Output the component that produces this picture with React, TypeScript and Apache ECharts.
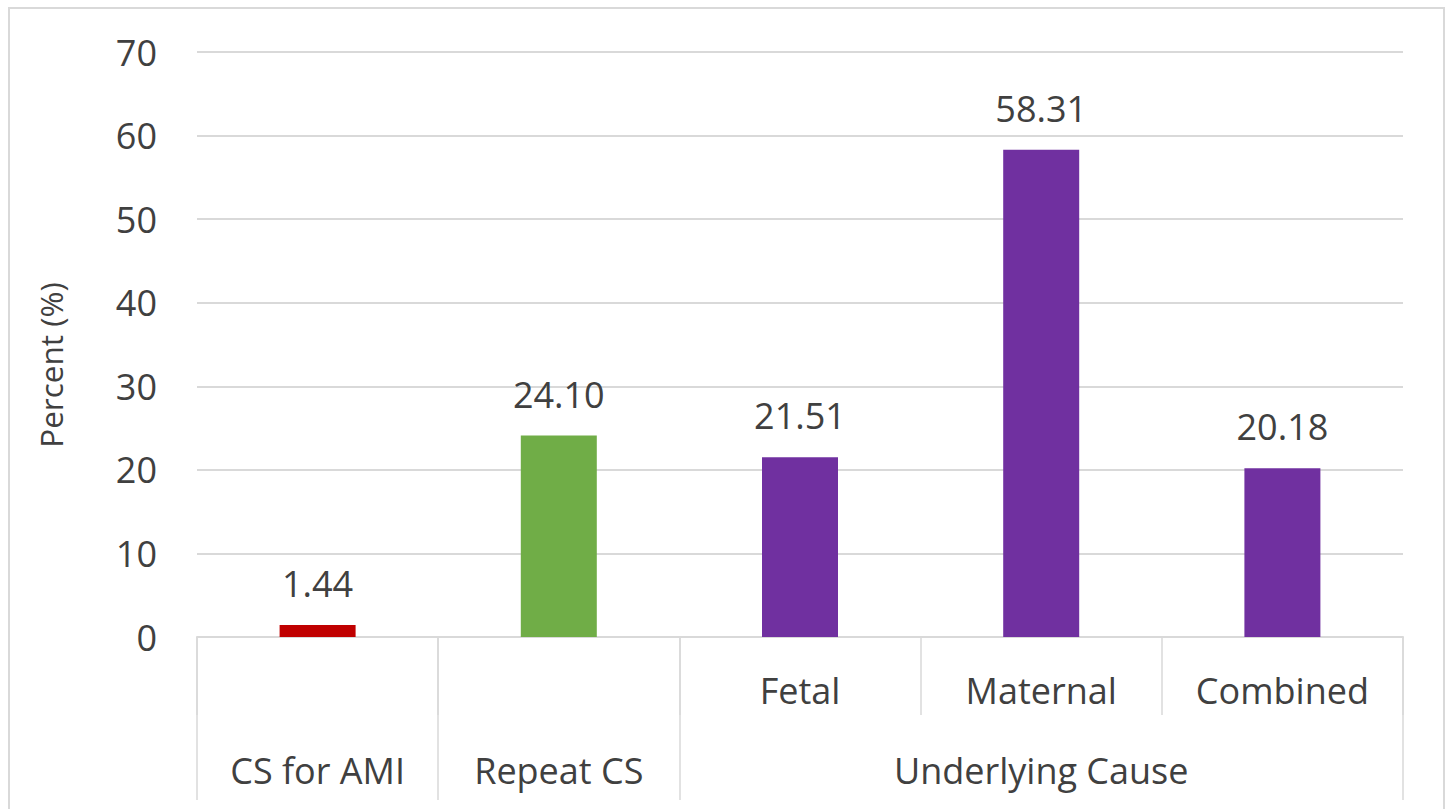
import React, { useEffect, useRef } from "react";
import * as echarts from "echarts";

const categories = ["", "", "Fetal", "Maternal", "Combined"];
const groupLabels = ["CS for AMI", "Repeat CS", "", "Underlying Cause", ""];
const values = [1.44, 24.1, 21.51, 58.31, 20.18];
const barColors = ["#C00000", "#70AD47", "#7030A0", "#7030A0", "#7030A0"];
const yTicks = { min: 0, max: 70, interval: 10 };
const yTitle = "Percent (%)";

const FONT = "'Open Sans', 'Noto Sans', sans-serif";
const TEXT = "#404040";
const LINE = "#D9D9D9";
const FS = 36;

export default function App() {
  const ref = useRef<HTMLDivElement>(null);
  useEffect(() => {
    if (!ref.current) return;
    const chart = echarts.init(ref.current, undefined, { renderer: "svg" });
    const gridPos = { left: 197, right: 45, top: 52, bottom: 172 };
    chart.setOption({
      animation: false,
      backgroundColor: "#FFFFFF",
      textStyle: { fontFamily: FONT },
      grid: [
        { ...gridPos, containLabel: false },
        { ...gridPos, containLabel: false },
      ],
      xAxis: [
        {
          type: "category",
          gridIndex: 0,
          data: categories,
          axisLine: { show: true, lineStyle: { color: LINE, width: 2 } },
          axisTick: { show: true, length: 78, interval: 0, lineStyle: { color: LINE, width: 1.5 } },
          axisLabel: { interval: 0, margin: 35, color: TEXT, fontSize: FS, fontFamily: FONT },
        },
        {
          type: "category",
          gridIndex: 1,
          data: groupLabels,
          axisLine: { show: false },
          axisTick: {
            show: true,
            length: 163,
            interval: (i: number) => i <= 2,
            lineStyle: { color: LINE, width: 1.5 },
          },
          axisLabel: { interval: 0, margin: 115, color: TEXT, fontSize: FS, fontFamily: FONT },
        },
      ],
      yAxis: [
        {
          type: "value",
          gridIndex: 0,
          min: yTicks.min,
          max: yTicks.max,
          interval: yTicks.interval,
          axisLine: { show: false },
          axisTick: { show: false },
          axisLabel: { color: TEXT, fontSize: FS, fontFamily: FONT, margin: 40 },
          splitLine: { lineStyle: { color: LINE, width: 2 } },
        },
        { type: "value", gridIndex: 1, min: 0, max: 70, show: false },
      ],
      series: [
        {
          type: "bar",
          xAxisIndex: 0,
          yAxisIndex: 0,
          barWidth: 76,
          data: values.map((v, i) => ({ value: v, itemStyle: { color: barColors[i] } })),
          label: {
            show: true,
            position: "top",
            distance: 23.5,
            color: TEXT,
            fontSize: FS,
            fontFamily: FONT,
            formatter: (p: any) => Number(p.value).toFixed(2),
          },
        },
      ],
      graphic: [
        {
          type: "rect",
          shape: { x: 9, y: 8, width: 1435, height: 830 },
          style: { fill: "none", stroke: LINE, lineWidth: 2 },
          silent: true,
          z: -1,
        },
        {
          type: "text",
          x: 50,
          y: 365,
          rotation: Math.PI / 2,
          style: {
            text: yTitle,
            fill: TEXT,
            fontSize: 31.5,
            fontFamily: FONT,
            align: "center",
            verticalAlign: "middle",
          },
        },
      ],
    });
    return () => chart.dispose();
  }, []);
  return (
    <div
      ref={ref}
      style={{ position: "fixed", left: 0, top: 0, width: 1448, height: 809 }}
    />
  );
}
